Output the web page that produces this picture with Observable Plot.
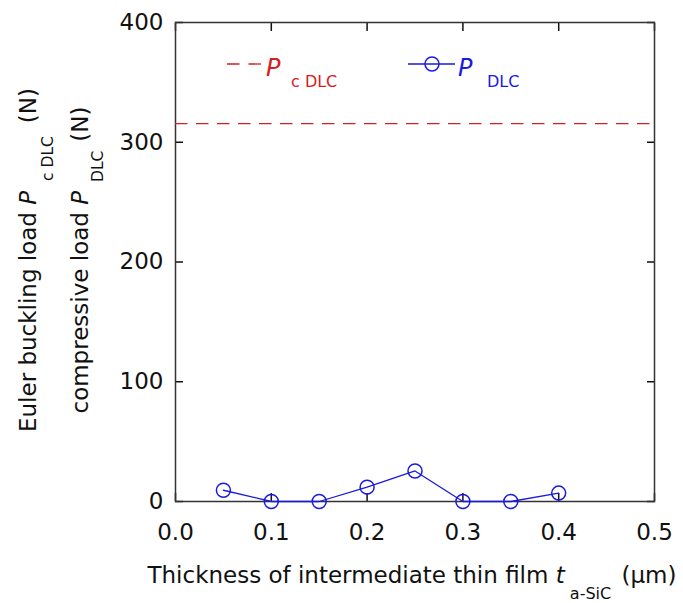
<!DOCTYPE html>
<html>
<head>
<meta charset="utf-8">
<script src="https://cdn.jsdelivr.net/npm/d3@7"></script>
<script src="https://cdn.jsdelivr.net/npm/@observablehq/plot@0.6"></script>
<style>
  html, body { margin: 0; padding: 0; background: #fff; }
  #chart svg { display: block; }
</style>
</head>
<body>
<div id="chart"></div>
<script>
// Data
const thickness = [0.05, 0.10, 0.15, 0.20, 0.25, 0.30, 0.35, 0.40];   // t a-SiC (µm)
const pDLC      = [9.4, 0, 0, 12, 25.5, 0, 0, 7];                      // compressive load P DLC (N)
const pcDLC     = [315.5];                                            // Euler buckling load Pc DLC (N)
const xTicks    = [0, 0.1, 0.2, 0.3, 0.4, 0.5];
const yTicks    = [0, 100, 200, 300, 400];

const RED = "#d42020";
const BLUE = "#1a1ae0";
const FONT = "DejaVu Sans, Verdana, sans-serif";

const points = thickness.map((t, i) => ({t, p: pDLC[i]}));

const W = 683, H = 603;
const svg = Plot.plot({
  width: W,
  height: H,
  marginLeft: 175,
  marginRight: 29,
  marginTop: 22,
  marginBottom: 102,
  style: {fontFamily: FONT, fontSize: "23px", color: "#111", background: "#fff"},
  x: {domain: [0, 0.5], label: null},
  y: {domain: [0, 400], label: null},
  marks: [
    // tick labels
    Plot.axisY({ticks: yTicks, anchor: "left", tickSize: 0, tickPadding: 12, tickFormat: d3.format("d"), label: null}),
    Plot.axisX({ticks: xTicks, anchor: "bottom", tickSize: 0, tickPadding: 22, tickFormat: d3.format(".1f"), label: null}),
    // inward tick marks on all four sides
    Plot.axisY({ticks: yTicks, anchor: "left", tickSize: -8, tickFormat: () => "", label: null, strokeWidth: 1.5}),
    Plot.axisY({ticks: yTicks, anchor: "right", tickSize: -8, tickFormat: () => "", label: null, strokeWidth: 1.5}),
    Plot.axisX({ticks: xTicks, anchor: "bottom", tickSize: -8, tickFormat: () => "", label: null, strokeWidth: 1.5}),
    Plot.axisX({ticks: xTicks, anchor: "top", tickSize: -8, tickFormat: () => "", label: null, strokeWidth: 1.5}),
    Plot.frame({stroke: "#333", strokeWidth: 1.5}),
    Plot.ruleY(pcDLC, {stroke: RED, strokeWidth: 1.3, strokeDasharray: "12.5,8.5"}),
    Plot.line(points, {x: "t", y: "p", stroke: BLUE, strokeWidth: 1.3}),
    Plot.dot(points, {x: "t", y: "p", r: 7, stroke: BLUE, strokeWidth: 1.5, fill: "none"})
  ]
});

const s = d3.select(svg);
const g = s.append("g").attr("font-family", FONT).attr("fill", "#111");

// Y axis titles (two rotated lines)
function yTitle(x, parts) {
  const t = g.append("text")
    .attr("transform", `translate(${x},260) rotate(-90)`)
    .attr("text-anchor", "middle")
    .attr("font-size", 23);
  parts(t);
}
yTitle(36, t => {
  t.append("tspan").text("Euler buckling load ");
  t.append("tspan").attr("font-style", "italic").text("P");
  t.append("tspan").attr("font-size", 15.5).attr("dy", 17).attr("dx", 5).text(" c DLC ");
  t.append("tspan").attr("dy", -17).attr("dx", 8).text("(N)");
});
yTitle(88, t => {
  t.append("tspan").text("compressive load ");
  t.append("tspan").attr("font-style", "italic").text("P");
  t.append("tspan").attr("font-size", 15.5).attr("dy", 15).attr("dx", 4).text(" DLC ");
  t.append("tspan").attr("dy", -15).attr("dx", 4).text("(N)");
});

// X axis title
{
  const t = g.append("text")
    .attr("x", 412).attr("y", 583)
    .attr("text-anchor", "middle")
    .attr("font-size", 23);
  t.append("tspan").text("Thickness of intermediate thin film ");
  t.append("tspan").attr("font-style", "italic").text("t");
  t.append("tspan").attr("font-size", 16).attr("dy", 16).text(" a-SiC");
  t.append("tspan").attr("dy", -16).attr("dx", 3).text(" (μm)");
}

// Legend
{
  const lg = s.append("g").attr("font-family", FONT).attr("text-anchor", "start");
  lg.append("line").attr("x1", 227).attr("x2", 262).attr("y1", 64).attr("y2", 64)
    .attr("stroke", RED).attr("stroke-width", 1.3).attr("stroke-dasharray", "12.5,9");
  const t1 = lg.append("text").attr("x", 266).attr("y", 76).attr("fill", RED).attr("font-size", 24).attr("text-anchor", "start");
  t1.append("tspan").attr("font-style", "italic").text("P");
  t1.append("tspan").attr("font-size", 16).attr("dy", 11).attr("x", 291).text("c DLC");

  lg.append("line").attr("x1", 408).attr("x2", 455).attr("y1", 64).attr("y2", 64)
    .attr("stroke", BLUE).attr("stroke-width", 1.3);
  lg.append("circle").attr("cx", 432).attr("cy", 64).attr("r", 7)
    .attr("stroke", BLUE).attr("stroke-width", 1.5).attr("fill", "none");
  const t2 = lg.append("text").attr("x", 458).attr("y", 76).attr("fill", BLUE).attr("font-size", 24).attr("text-anchor", "start");
  t2.append("tspan").attr("font-style", "italic").text("P");
  t2.append("tspan").attr("font-size", 16).attr("dy", 11).attr("x", 487).text("DLC");
}

document.getElementById("chart").appendChild(svg);
</script>
</body>
</html>
